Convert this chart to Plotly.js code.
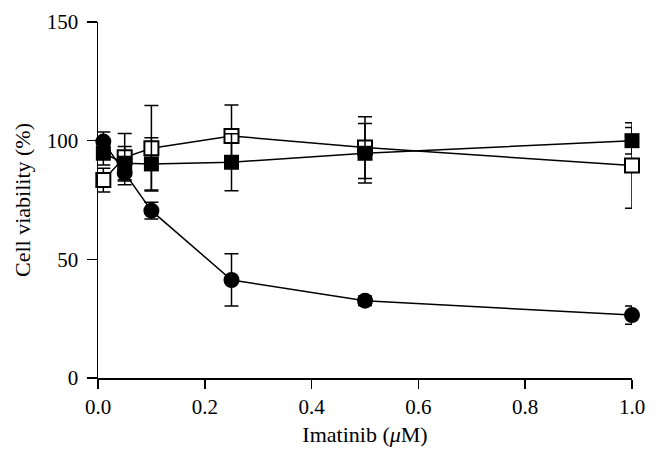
<!DOCTYPE html>
<html>
<head>
<meta charset="utf-8">
<script src="https://cdn.plot.ly/plotly-3.0.1.min.js"></script>
<style>html,body{margin:0;padding:0;background:#fff;}#chart{width:658px;height:462px;}</style>
</head>
<body>
<div id="chart"></div>
<script>
const doses = [0.01, 0.05, 0.1, 0.25, 0.5, 1.0];
const circleVals = [99.6, 86.4, 70.5, 41.3, 32.6, 26.5];
const circleErr = [4, 5, 3.5, 11, 2, 3.8];
const filledSqVals = [94.7, 90.5, 90.2, 90.9, 94.7, 100];
const filledSqErr = [5, 7, 11, 12, 12.5, 5.6];
const openSqVals = [83.4, 93, 96.8, 102, 97.1, 89.5];
const openSqErr = [5, 10, 18, 13, 13, 18];
const xTickVals = [0, 0.2, 0.4, 0.6, 0.8, 1.0];
const xTickText = ['0.0', '0.2', '0.4', '0.6', '0.8', '1.0'];
const yTickVals = [0, 50, 100, 150];

function errBar(arr) {
  return {type: 'data', array: arr, visible: true, color: '#000', thickness: 1.5, width: 7};
}

const traces = [
  {x: doses, y: openSqVals, error_y: errBar(openSqErr), mode: 'lines+markers', cliponaxis: false,
   line: {color: '#000', width: 1.5},
   marker: {symbol: 'square', size: 14, color: '#fff', line: {color: '#000', width: 2}}},
  {x: doses, y: circleVals, error_y: errBar(circleErr), mode: 'lines+markers', cliponaxis: false,
   line: {color: '#000', width: 1.5},
   marker: {symbol: 'circle', size: 16, color: '#000', line: {color: '#000', width: 0}}},
  {x: doses, y: filledSqVals, error_y: errBar(filledSqErr), mode: 'lines+markers', cliponaxis: false,
   line: {color: '#000', width: 1.5},
   marker: {symbol: 'square', size: 15, color: '#000', line: {color: '#000', width: 0}}}
];

const tickFont = {family: 'Liberation Serif, DejaVu Serif, serif', size: 21, color: '#000'};
const titleFont = {family: 'Liberation Serif, DejaVu Serif, serif', size: 22, color: '#000'};

const layout = {
  width: 658, height: 462,
  margin: {l: 98, r: 26, t: 22, b: 84},
  paper_bgcolor: '#fff', plot_bgcolor: '#fff',
  showlegend: false,
  font: tickFont,
  xaxis: {
    range: [0, 1.0], tickvals: xTickVals, ticktext: xTickText,
    showgrid: false, zeroline: false, showline: true, linecolor: '#000', linewidth: 1.5,
    ticks: 'outside', ticklen: 9, tickwidth: 1.5, tickcolor: '#000',
    tickfont: tickFont,
    title: {text: 'Imatinib (<i>μ</i>M)', font: titleFont, standoff: 9}
  },
  yaxis: {
    range: [0, 150], tickvals: yTickVals,
    showgrid: false, zeroline: false, showline: true, linecolor: '#000', linewidth: 1.5,
    ticks: 'outside', ticklen: 10, tickwidth: 1.5, tickcolor: '#000',
    ticklabelstandoff: 4,
    tickfont: tickFont,
    title: {text: 'Cell viability (%)', font: titleFont, standoff: 10}
  }
};

Plotly.newPlot('chart', traces, layout, {displayModeBar: false, staticPlot: true});
</script>
</body>
</html>
